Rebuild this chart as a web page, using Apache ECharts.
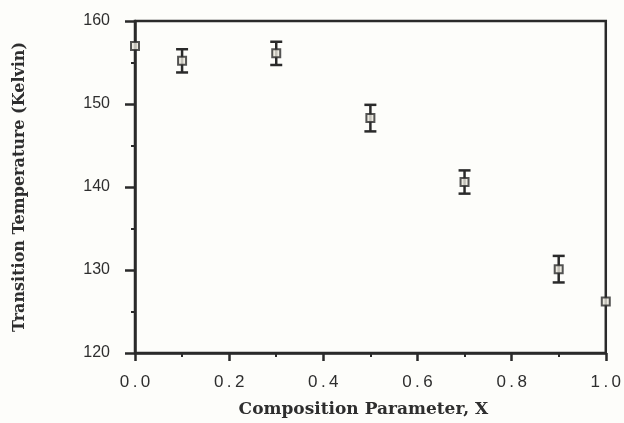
<!DOCTYPE html>
<html><head><meta charset="utf-8">
<script src="https://cdn.jsdelivr.net/npm/echarts@6/dist/echarts.min.js"></script>
<style>html,body{margin:0;padding:0;background:#fdfdfa;}#c{width:624px;height:423px;}</style>
</head><body><div id="c"></div>
<script>
const xValues = [0.0, 0.1, 0.3, 0.5, 0.7, 0.9, 1.0];
const temps = [157.0, 155.2, 156.1, 148.3, 140.6, 130.1, 126.2];
const errors = [0, 1.4, 1.4, 1.6, 1.4, 1.6, 0];
const xTickLabels = ['0.0','0.2','0.4','0.6','0.8','1.0'];
const yTickLabels = ['120','130','140','150','160'];

const ink = '#2a2a2a';
const textInk = '#2e2e2e';
const pts = xValues.map((x,i)=>[x, temps[i]]);
const errData = xValues.map((x,i)=>[x, temps[i]-errors[i], temps[i]+errors[i]]);

const chart = echarts.init(document.getElementById('c'), null, {renderer:'canvas'});
chart.setOption({
  backgroundColor: '#fdfdfa',
  animation: false,
  grid: {left:135, right:15, top:21, bottom:70, show:true, borderColor:ink, borderWidth:2.5, backgroundColor:'transparent'},
  xAxis: {
    type:'value', min:0, max:1, interval:0.2,
    axisLine:{lineStyle:{color:ink, width:2.5}},
    axisTick:{inside:false, length:8, lineStyle:{color:ink, width:2.5}},
    minorTick:{show:true, splitNumber:2, length:4, lineStyle:{color:ink, width:2}},
    splitLine:{show:false},
    axisLabel:{margin:21, color:textInk, fontFamily:'Liberation Sans, Arial, sans-serif', fontSize:17,
      formatter:(v)=>{const i=Math.round(v/0.2); const s=xTickLabels[i]; return s!==undefined? s.split('').join('\u2009') : '';}},
    name:'Composition Parameter, X', nameLocation:'middle', nameGap:48,
    nameTextStyle:{color:textInk, fontFamily:'DejaVu Serif, serif', fontWeight:'bold', fontSize:17, padding:[0,14,0,0]}
  },
  yAxis: {
    type:'value', min:120, max:160, interval:10,
    axisLine:{lineStyle:{color:ink, width:2.5}},
    axisTick:{inside:false, length:10, lineStyle:{color:ink, width:2.5}},
    minorTick:{show:true, splitNumber:2, length:4, lineStyle:{color:ink, width:2}},
    splitLine:{show:false},
    axisLabel:{margin:25, color:textInk, fontFamily:'Liberation Sans, Arial, sans-serif', fontSize:16,
      formatter:(v)=>{const i=Math.round((v-120)/10); return yTickLabels[i]!==undefined?yTickLabels[i]:'';}},
    name:'Transition Temperature (Kelvin)', nameLocation:'middle', nameGap:107, nameRotate:90,
    nameTextStyle:{color:textInk, fontFamily:'DejaVu Serif, serif', fontWeight:'bold', fontSize:16}
  },
  series: [
    {
      type:'custom', data: errData, clip:false, z:3,
      renderItem:(params, api)=>{
        const x = api.value(0), lo = api.value(1), hi = api.value(2);
        if (hi - lo < 0.01) return null;
        const pLo = api.coord([x, lo]), pHi = api.coord([x, hi]);
        const w = 6;
        const style = {stroke: ink, lineWidth: 2.5};
        return {type:'group', children:[
          {type:'line', shape:{x1:pLo[0], y1:pLo[1], x2:pHi[0], y2:pHi[1]}, style},
          {type:'line', shape:{x1:pLo[0]-w, y1:pLo[1], x2:pLo[0]+w, y2:pLo[1]}, style},
          {type:'line', shape:{x1:pHi[0]-w, y1:pHi[1], x2:pHi[0]+w, y2:pHi[1]}, style}
        ]};
      }
    },
    {
      type:'scatter', data: pts, symbol:'rect', symbolSize:8, clip:false, z:5,
      itemStyle:{color:'#e8e6dc', borderColor:ink, borderWidth:2}
    }
  ]
});
</script></body></html>
